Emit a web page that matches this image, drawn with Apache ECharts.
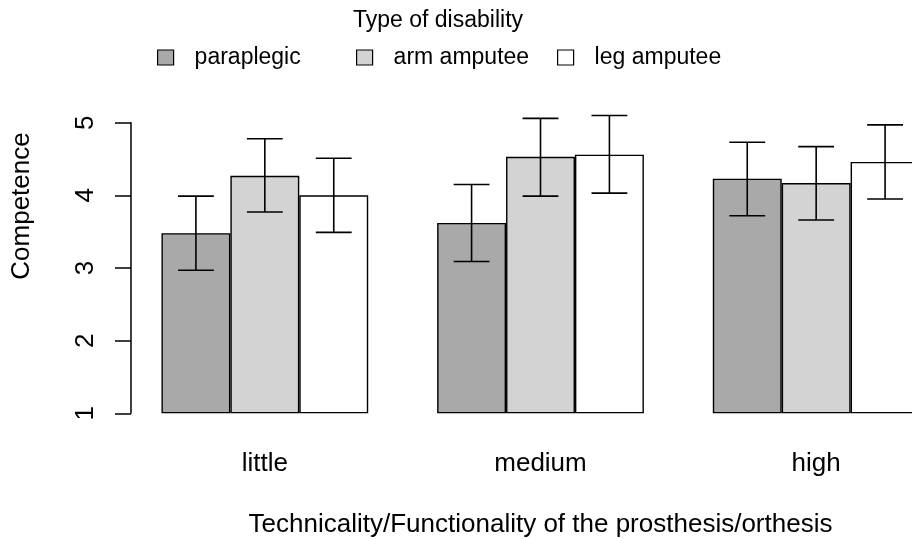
<!DOCTYPE html>
<html>
<head>
<meta charset="utf-8">
<script src="https://cdn.jsdelivr.net/npm/echarts@6/dist/echarts.min.js"></script>
<style>html,body{margin:0;padding:0;background:#fff}#c{width:912px;height:539px}</style>
</head>
<body>
<div id="c"></div>
<script>
const categories = ['little', 'medium', 'high'];
const seriesNames = ['paraplegic', 'arm amputee', 'leg amputee'];
const paraplegic = [3.48, 3.62, 4.23];
const armAmputee = [4.27, 4.53, 4.17];
const legAmputee = [4.00, 4.56, 4.46];
const paraLow = [2.97, 3.09, 3.72];
const paraHigh = [3.99, 4.15, 4.73];
const armLow = [3.77, 3.99, 3.66];
const armHigh = [4.78, 5.06, 4.67];
const legLow = [3.49, 4.03, 3.95];
const legHigh = [4.51, 5.10, 4.97];
const yTicks = [1, 2, 3, 4, 5];
const colors = ['#A9A9A9', '#D3D3D3', '#FFFFFF'];

const FONT = 'Liberation Sans';
const values = [paraplegic, armAmputee, legAmputee];
const lows = [paraLow, armLow, legLow];
const highs = [paraHigh, armHigh, legHigh];

const chart = echarts.init(document.getElementById('c'), null, {renderer: 'canvas'});

const barSeries = seriesNames.map((n, k) => ({
  name: n,
  type: 'bar',
  data: values[k],
  barGap: '0%',
  barCategoryGap: '25%',
  itemStyle: {color: colors[k], borderColor: '#000', borderWidth: 1.4},
  emphasis: {disabled: true},
  z: 2
}));

const errSeries = seriesNames.map((n, k) => ({
  type: 'custom',
  name: n + ' err',
  data: categories.map((c, i) => [i, lows[k][i], highs[k][i]]),
  encode: {x: 0, y: [1, 2]},
  z: 5,
  silent: true,
  renderItem: function (params, api) {
    const bandW = api.size([1, 0])[0];
    const barW = bandW * 0.75 / 3;
    const cx = api.coord([api.value(0), api.value(1)])[0] + (k - 1) * barW;
    const yLo = api.coord([api.value(0), api.value(1)])[1];
    const yHi = api.coord([api.value(0), api.value(2)])[1];
    const hw = barW * 0.26;
    const st = {stroke: '#000', lineWidth: 1.6};
    return {
      type: 'group',
      children: [
        {type: 'line', shape: {x1: cx, y1: yLo, x2: cx, y2: yHi}, style: st},
        {type: 'line', shape: {x1: cx - hw, y1: yLo, x2: cx + hw, y2: yLo}, style: st},
        {type: 'line', shape: {x1: cx - hw, y1: yHi, x2: cx + hw, y2: yHi}, style: st}
      ]
    };
  }
}));

const legendPos = [152, 351, 552];
const legends = seriesNames.map((n, k) => ({
  data: [n],
  left: legendPos[k],
  top: 41,
  itemWidth: 16,
  itemHeight: 15,
  icon: 'rect',
  selectedMode: false,
  itemStyle: {borderColor: '#000', borderWidth: 1.2},
  textStyle: {fontFamily: FONT, fontSize: 23, color: '#000', padding: [0, 0, 0, 16]}
}));

chart.setOption({
  backgroundColor: '#fff',
  animation: false,
  title: {
    text: 'Type of disability',
    left: 348,
    top: 4,
    textStyle: {fontFamily: FONT, fontSize: 23, fontWeight: 'normal', color: '#000'}
  },
  legend: legends,
  grid: {left: 127, width: 827, top: 122.7, height: 290.6, containLabel: false, outerBoundsMode: 'none'},
  xAxis: {
    type: 'category',
    data: categories,
    axisLine: {show: false},
    axisTick: {show: false},
    axisLabel: {fontFamily: FONT, fontSize: 26, color: '#000', margin: 38},
    name: 'Technicality/Functionality of the prosthesis/orthesis',
    nameLocation: 'middle',
    nameGap: 99,
    nameTextStyle: {fontFamily: FONT, fontSize: 26, color: '#000'}
  },
  yAxis: {
    type: 'value',
    min: yTicks[0],
    max: yTicks[yTicks.length - 1],
    interval: 1,
    startValue: 1,
    offset: -4,
    splitLine: {show: false},
    axisLine: {show: true, lineStyle: {color: '#000', width: 1.5}},
    axisTick: {show: true, length: 16, lineStyle: {color: '#000', width: 1.5}},
    axisLabel: {fontFamily: FONT, fontSize: 26, color: '#000', rotate: 90, margin: 32}
  },
  graphic: [{
    type: 'text',
    x: 22,
    y: 206,
    rotation: Math.PI / 2,
    style: {text: 'Competence', fontFamily: FONT, fontSize: 26, fill: '#000', align: 'center', verticalAlign: 'middle'}
  }],
  series: barSeries.concat(errSeries)
});
</script>
</body>
</html>
